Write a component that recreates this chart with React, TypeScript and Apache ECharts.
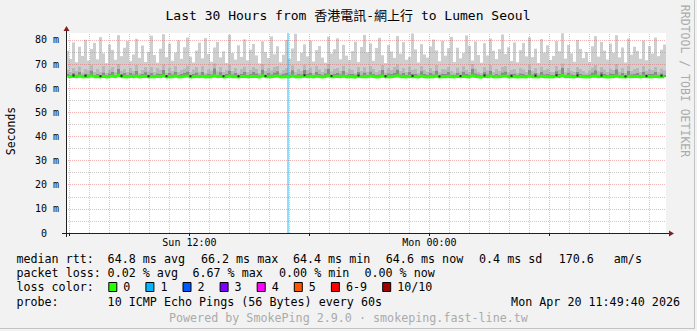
import React, { useEffect, useRef } from "react";
import * as echarts from "echarts";

// ---- time base (hours since Sun 00:00) ----
const START_HOUR = 5 + 49 / 60 + 40 / 3600; // Sun 05:49:40
const SPAN_HOURS = 30;
const STEP_HOURS = 0.15; // 9 minutes per sample column

// ---- smoke: top of light band (max ping), ms ----
const smokeMax = [
  75.5, 72.1, 79.0, 70.8, 77.2, 73.4, 80.1, 71.5, 76.3, 78.8,
  72.0, 81.2, 74.5, 70.4, 78.1, 75.9, 71.8, 82.0, 73.3, 76.8,
  79.6, 71.2, 74.0, 80.5, 72.6, 77.7, 70.9, 75.1, 81.8, 73.8,
  70.6, 76.4, 82.4, 72.9, 78.5, 71.4, 74.8, 79.9, 72.2, 77.0,
  81.0, 73.1, 70.7, 75.6, 78.9, 72.4, 80.8, 74.2, 71.0, 76.9,
  79.2, 72.8, 75.3, 70.5, 82.2, 74.6, 71.9, 77.8, 73.0, 80.3,
  71.6, 76.0, 78.4, 73.6, 70.3, 79.5, 75.0, 72.5, 81.5, 74.1,
  77.4, 70.8, 73.9, 80.0, 72.3, 76.5, 82.6, 71.3, 74.7, 78.2,
  73.2, 79.8, 71.1, 75.8, 77.5, 72.7, 70.6, 81.4, 74.4, 76.2,
  80.7, 72.0, 78.0, 73.5, 71.7, 75.4, 79.3, 70.9, 77.1, 82.1,
  74.9, 78.6, 71.4, 76.7, 80.9, 73.7, 70.4, 77.9, 75.2, 72.6,
  81.7, 74.3, 79.1, 71.8, 73.0, 82.7, 76.1, 70.7, 78.3, 74.0,
  72.7, 77.3, 80.2, 75.7, 71.2, 79.7, 73.5, 76.6, 81.3, 70.9,
  76.8, 72.4, 74.6, 81.9, 77.6, 71.5, 79.4, 73.8, 70.6, 78.7,
  73.6, 80.6, 75.5, 72.1, 76.2, 82.3, 74.2, 77.0, 71.3, 79.0,
  70.8, 75.8, 78.8, 73.2, 81.1, 72.9, 76.4, 70.5, 80.4, 74.8,
  77.8, 71.7, 73.4, 79.6, 75.3, 82.8, 72.3, 78.0, 74.5, 71.0,
  80.0, 76.3, 72.5, 75.0, 70.9, 77.4, 81.6, 73.1, 79.2, 75.6,
  71.9, 78.5, 74.7, 82.0, 72.8, 76.9, 70.7, 80.6, 73.9, 77.2,
  75.4, 72.2, 79.8, 71.6, 77.5, 74.4, 81.0, 73.3, 76.0, 78.1,
];

// ---- smoke: top of medium band ----
const smokeMid = [
  67.8, 66.9, 68.5, 67.2, 69.1, 66.6, 68.0, 67.5, 69.6, 66.8,
  68.2, 67.0, 69.3, 66.5, 67.9, 68.8, 66.7, 70.2, 67.4, 68.1,
  66.9, 68.6, 67.3, 69.8, 66.4, 67.7, 68.9, 67.1, 69.0, 66.8,
  68.4, 67.6, 70.0, 66.6, 68.7, 67.2, 69.4, 66.9, 67.8, 68.3,
  69.5, 66.7, 67.9, 68.8, 67.0, 69.2, 66.5, 68.1, 67.4, 70.4,
  67.1, 68.9, 66.8, 67.6, 69.7, 67.3, 68.5, 66.6, 68.0, 69.1,
  66.9, 67.8, 69.0, 68.2, 66.5, 70.1, 67.2, 68.6, 67.5, 68.8,
  69.3, 66.6, 67.7, 68.4, 67.0, 69.6, 66.8, 68.1, 67.3, 69.9,
  67.6, 68.7, 66.4, 69.2, 67.9, 66.9, 68.3, 70.3, 67.1, 68.0,
  68.6, 67.4, 69.5, 66.7, 68.2, 67.8, 66.5, 69.0, 67.2, 68.9,
  67.0, 69.4, 68.1, 66.8, 67.5, 69.8, 66.6, 68.4, 67.7, 68.8,
  70.0, 67.3, 68.6, 66.9, 69.1, 67.6, 68.0, 66.5, 69.3, 67.8,
  66.8, 68.5, 67.2, 69.7, 66.7, 68.2, 67.9, 69.0, 67.4, 66.6,
  68.7, 67.1, 69.2, 67.8, 66.9, 70.2, 68.3, 67.0, 66.5, 68.9,
  67.5, 69.6, 66.8, 68.0, 67.3, 68.8, 69.4, 66.7, 67.6, 68.1,
  66.6, 68.4, 67.9, 66.9, 69.9, 67.2, 68.5, 66.5, 69.1, 67.7,
  68.2, 67.0, 66.8, 69.3, 67.8, 70.4, 66.7, 68.6, 67.4, 66.9,
  69.0, 68.1, 67.3, 66.6, 67.5, 68.7, 69.8, 67.1, 68.9, 67.9,
  66.8, 68.3, 67.6, 70.1, 67.0, 68.4, 66.5, 69.5, 67.2, 68.0,
  68.5, 66.9, 69.2, 67.4, 68.1, 67.7, 69.0, 66.7, 68.3, 67.5,
];

// ---- smoke: top of dark band ----
const smokeLow = [
  65.9, 65.6, 66.3, 65.7, 66.8, 65.5, 66.1, 65.8, 67.4, 65.6,
  66.0, 65.7, 66.6, 65.4, 66.2, 66.9, 65.6, 68.1, 65.9, 66.4,
  65.6, 66.5, 65.8, 67.2, 65.5, 66.0, 66.7, 65.7, 66.3, 65.6,
  66.2, 65.9, 67.6, 65.5, 66.4, 65.8, 66.9, 65.6, 66.0, 66.5,
  67.0, 65.6, 65.9, 66.6, 65.7, 66.8, 65.4, 66.1, 65.8, 68.3,
  65.7, 66.7, 65.6, 65.9, 67.3, 65.8, 66.3, 65.5, 66.0, 66.9,
  65.6, 65.9, 66.8, 66.2, 65.4, 67.8, 65.7, 66.4, 65.8, 66.6,
  67.1, 65.5, 65.9, 66.3, 65.7, 67.5, 65.6, 66.1, 65.8, 67.7,
  65.9, 66.5, 65.4, 66.9, 66.0, 65.6, 66.2, 68.0, 65.7, 65.9,
  66.4, 65.8, 67.2, 65.6, 66.1, 65.9, 65.5, 66.8, 65.7, 66.6,
  65.7, 67.0, 66.0, 65.6, 65.8, 67.6, 65.5, 66.2, 65.9, 66.5,
  67.8, 65.8, 66.4, 65.6, 66.9, 65.9, 66.0, 65.4, 67.1, 65.9,
  65.6, 66.3, 65.8, 67.4, 65.5, 66.1, 65.9, 66.8, 65.7, 65.5,
  66.5, 65.7, 66.9, 65.9, 65.6, 68.2, 66.2, 65.8, 65.4, 66.7,
  65.8, 67.3, 65.6, 66.0, 65.7, 66.6, 67.0, 65.5, 65.9, 66.1,
  65.5, 66.2, 65.9, 65.6, 67.7, 65.8, 66.4, 65.4, 66.9, 65.8,
  66.1, 65.7, 65.6, 67.1, 65.9, 68.4, 65.5, 66.5, 65.8, 65.6,
  66.8, 66.0, 65.7, 65.5, 65.8, 66.6, 67.5, 65.7, 66.7, 65.9,
  65.6, 66.2, 65.9, 67.9, 65.7, 66.3, 65.4, 67.2, 65.8, 66.0,
  66.4, 65.6, 66.9, 65.8, 66.1, 65.9, 66.8, 65.5, 66.2, 65.7,
];

// ---- median rtt ----
const medianRtt = [
  64.9, 64.8, 65.0, 64.8, 65.1, 64.7, 64.9, 64.8, 65.2, 64.8,
  64.9, 64.7, 65.0, 64.6, 64.9, 65.1, 64.8, 65.3, 64.8, 64.9,
  64.7, 65.0, 64.8, 65.1, 64.6, 64.9, 65.0, 64.7, 64.9, 64.8,
  65.0, 64.8, 65.2, 64.7, 64.9, 64.8, 65.1, 64.7, 64.8, 65.0,
  65.1, 64.7, 64.8, 65.0, 64.8, 65.0, 64.6, 64.9, 64.8, 65.2,
  64.8, 65.0, 64.7, 64.8, 65.1, 64.8, 64.9, 64.7, 64.9, 65.0,
  64.7, 64.9, 65.0, 64.9, 64.6, 65.2, 64.8, 64.9, 64.8, 65.0,
  65.1, 64.7, 64.8, 64.9, 64.8, 65.1, 64.7, 64.9, 64.8, 65.1,
  64.8, 65.0, 64.6, 65.0, 64.9, 64.7, 64.9, 65.2, 64.8, 64.8,
  65.0, 64.8, 65.1, 64.7, 64.9, 64.8, 64.6, 65.0, 64.8, 64.9,
  64.8, 65.1, 64.9, 64.7, 64.8, 65.1, 64.7, 64.9, 64.8, 65.0,
  65.2, 64.8, 64.9, 64.7, 65.0, 64.8, 64.9, 64.6, 65.1, 64.8,
  64.7, 64.9, 64.8, 65.1, 64.6, 64.9, 64.8, 65.0, 64.8, 64.7,
  65.0, 64.8, 65.0, 64.8, 64.7, 65.2, 64.9, 64.8, 64.6, 65.0,
  64.8, 65.1, 64.7, 64.9, 64.8, 65.0, 65.1, 64.7, 64.8, 64.9,
  64.7, 64.9, 64.8, 64.7, 65.1, 64.8, 64.9, 64.6, 65.0, 64.8,
  64.9, 64.8, 64.7, 65.1, 64.8, 65.3, 64.7, 65.0, 64.8, 64.7,
  65.0, 64.9, 64.8, 64.7, 64.8, 65.0, 65.1, 64.8, 65.0, 64.8,
  64.7, 64.9, 64.8, 65.1, 64.8, 64.9, 64.6, 65.0, 64.8, 64.9,
  64.9, 64.7, 65.0, 64.8, 64.9, 64.8, 65.0, 64.7, 64.9, 64.6,
];

// sample columns where the darkest smoke shows on the median line
const blackSpotSteps = [2, 6, 11, 18, 27, 33, 41, 52, 57, 66, 79, 88, 97, 106, 115, 124, 131, 139, 148, 156, 163, 170, 178, 186, 193, 198];

// loss events (hour, loss-colour index)
const lossHours = [16.94];
const lossLevel = [1];

// grid
const gridHours = [6, 7, 8, 9, 10, 11, 12, 13, 14, 15, 16, 17, 18, 19, 20, 21, 22, 23, 24, 25, 26, 27, 28, 29, 30, 31, 32, 33, 34, 35];
const majorHours = [6, 12, 18, 24, 30];
const gridValues = [5, 10, 15, 20, 25, 30, 35, 40, 45, 50, 55, 60, 65, 70, 75, 80];
const xLabelHours = [12, 24];
const xLabelTexts = ["Sun 12:00", "Mon 00:00"];
const Y_MAX = 82.9;

// legend texts
const titleText = "Last 30 Hours from 香港電訊-網上行 to Lumen Seoul";
const rttStats = ["64.8 ms avg", "66.2 ms max", "64.4 ms min", "64.6 ms now", "0.4 ms sd", "170.6", "am/s"];
const lossStats = ["0.02 % avg", "6.67 % max", "0.00 % min", "0.00 % now"];
const lossLabels = ["0", "1", "2", "3", "4", "5", "6-9", "10/10"];
const lossColors = ["#26ff00", "#00b8ff", "#0059ff", "#7e00ff", "#ff00ff", "#ff5500", "#ff0000", "#a10000"];
const probeText = "10 ICMP Echo Pings (56 Bytes) every 60s";
const dateText = "Mon Apr 20 11:49:40 2026";
const poweredText = "Powered by SmokePing 2.9.0 · smokeping.fast-line.tw";

// ---- layout / style ----
const MONO = '"DejaVu Sans Mono", "Noto Sans CJK TC", monospace';
const LEG_FONT = `11.7px ${MONO}`;
const rttX = [107.6, 200.9, 292.9, 385.8, 479, 558.7, 613.8];
const lossX = [107.6, 192.4, 279, 364.4];
const SMOKE_DARK = "#8a8a8a";
const SMOKE_MID = "#b8b8b8";
const SMOKE_LIGHT = "#cecece";

function txt(text: string, x: number, y: number, font: string, fill = "#000", align = "left", rotation = 0) {
  return {
    type: "text",
    x,
    y,
    rotation,
    silent: true,
    z: 10,
    style: {
      text,
      font,
      fill,
      align,
      textAlign: align,
      verticalAlign: "middle",
      textVerticalAlign: "middle",
    },
  };
}

function buildOption() {
  const t = (i: number) => START_HOUR + (i + 0.5) * STEP_HOURS;
  const smokeData = medianRtt.map((m, i) => [t(i), m, smokeLow[i], smokeMid[i], smokeMax[i]]);

  const minorStyle = { color: "rgba(150,150,150,0.5)", width: 1, type: [1, 1] };
  const majorStyle = { color: "rgba(222,79,79,0.42)", width: 1, type: [1, 1] };

  const gridLines: any[] = [];
  gridHours.forEach((h) => {
    gridLines.push({ xAxis: h, lineStyle: majorHours.includes(h) ? majorStyle : minorStyle });
  });
  gridValues.forEach((v) => {
    gridLines.push({ yAxis: v, lineStyle: v % 10 === 0 ? majorStyle : minorStyle });
  });
  const lossLines = lossHours.map((h, i) => {
    const c = lossColors[lossLevel[i]];
    return { xAxis: h, lineStyle: { color: c, opacity: 0.45, width: 2, type: "solid" } };
  });

  const graphic: any[] = [];
  // frame
  graphic.push({ type: "rect", shape: { x: 694, y: 0, width: 1, height: 329 }, style: { fill: "#c4c4c4" }, silent: true });
  graphic.push({ type: "rect", shape: { x: 0, y: 328, width: 695, height: 1 }, style: { fill: "#c4c4c4" }, silent: true });
  // axis extensions and arrows
  graphic.push({ type: "line", shape: { x1: 66.5, y1: 237, x2: 66.5, y2: 29 }, style: { stroke: "#1f1f1f", lineWidth: 1 }, silent: true, z: 5 });
  graphic.push({ type: "line", shape: { x1: 62, y1: 233.5, x2: 670, y2: 233.5 }, style: { stroke: "#1f1f1f", lineWidth: 1 }, silent: true, z: 5 });
  graphic.push({ type: "polygon", shape: { points: [[63.5, 31], [66.5, 26], [69.5, 31]] }, style: { fill: "#801f1f" }, silent: true, z: 5 });
  graphic.push({ type: "polygon", shape: { points: [[669, 230.5], [674, 233.5], [669, 236.5]] }, style: { fill: "#801f1f" }, silent: true, z: 5 });

  // texts
  graphic.push(txt(titleText, 348, 15, `13px ${MONO}`, "#000", "center"));
  graphic.push(txt("Seconds", 11, 131, `11.5px ${MONO}`, "#000", "center", Math.PI / 2));
  graphic.push(txt("RRDTOOL / TOBI OETIKER", 685, 81, `11.5px ${MONO}`, "#ababab", "center", -Math.PI / 2));

  graphic.push(txt("median rtt:", 16.4, 259, LEG_FONT));
  rttStats.forEach((s, i) => graphic.push(txt(s, rttX[i], 259, LEG_FONT)));
  graphic.push(txt("packet loss:", 16.4, 273, LEG_FONT));
  lossStats.forEach((s, i) => graphic.push(txt(s, lossX[i], 273, LEG_FONT)));
  graphic.push(txt("loss color:", 16.4, 287, LEG_FONT));
  let bx = 108.3;
  lossLabels.forEach((lab, i) => {
    graphic.push({
      type: "rect",
      shape: { x: bx + 0.5, y: 282.5, width: 8, height: 9 },
      style: { fill: lossColors[i], stroke: "#000", lineWidth: 1 },
      silent: true,
      z: 10,
    });
    graphic.push(txt(lab, bx + 15, 287, LEG_FONT));
    bx += 30 + lab.length * 7.1;
  });
  graphic.push(txt("probe:", 16.4, 301.7, LEG_FONT));
  graphic.push(txt(probeText, 107.6, 301.7, LEG_FONT));
  graphic.push(txt(dateText, 680, 301.7, LEG_FONT, "#000", "right"));
  graphic.push(txt(poweredText, 348.4, 318, LEG_FONT, "#ababab", "center"));

  return {
    animation: false,
    backgroundColor: "#f2f2f2",
    grid: {
      left: 66,
      top: 33,
      width: 600,
      height: 200,
      show: true,
      backgroundColor: "#ffffff",
      borderWidth: 0,
    },
    xAxis: {
      type: "value",
      min: START_HOUR,
      max: START_HOUR + SPAN_HOURS,
      z: 4,
      axisLine: { show: false },
      splitLine: { show: false },
      axisTick: { show: true, customValues: majorHours, length: 3, lineStyle: { color: "#1f1f1f" } },
      axisLabel: {
        show: true,
        customValues: xLabelHours,
        formatter: (v: number) => {
          const k = xLabelHours.indexOf(Math.round(v));
          return k >= 0 ? xLabelTexts[k] : "";
        },
        margin: 4,
        fontFamily: MONO,
        fontSize: 10,
        color: "#000",
      },
    },
    yAxis: {
      type: "value",
      min: 0,
      max: Y_MAX,
      interval: 5,
      z: 4,
      axisLine: { show: false },
      axisTick: { show: false },
      splitLine: { show: false },
      axisLabel: {
        showMaxLabel: false,
        margin: 7,
        fontFamily: MONO,
        fontSize: 10,
        color: "#000",
        formatter: (v: number) => (v % 10 === 0 ? (v === 0 ? "{z|0}" : `${v} m`) : ""),
        rich: { z: { padding: [0, 12, 0, 0], fontFamily: MONO, fontSize: 10, color: "#000" } },
      },
    },
    graphic,
    series: [
      {
        type: "custom",
        name: "smoke",
        data: smokeData,
        encode: { x: 0, y: [1, 2, 3, 4] },
        silent: true,
        z: 2,
        renderItem: (params: any, api: any) => {
          const x = api.value(0);
          const p0 = api.coord([x, api.value(1)]);
          const p1 = api.coord([x, api.value(2)]);
          const p2 = api.coord([x, api.value(3)]);
          const p3 = api.coord([x, api.value(4)]);
          const w = api.size([STEP_HOURS, 0])[0];
          const left = p0[0] - w / 2;
          const band = (top: number[], bottom: number[], fill: string) => ({
            type: "rect",
            shape: { x: left, y: Math.min(top[1], bottom[1]), width: w, height: Math.max(0, bottom[1] - top[1]) },
            style: { fill },
          });
          return {
            type: "group",
            children: [band(p3, p2, SMOKE_LIGHT), band(p2, p1, SMOKE_MID), band(p1, p0, SMOKE_DARK)],
          };
        },
      },
      {
        type: "line",
        name: "grid",
        data: [],
        silent: true,
        markLine: { silent: true, z: 3, symbol: "none", label: { show: false }, animation: false, data: gridLines },
      },
      {
        type: "line",
        name: "loss",
        data: [],
        silent: true,
        markLine: { silent: true, z: 3, symbol: "none", label: { show: false }, animation: false, data: lossLines },
      },
      {
        type: "line",
        name: "median",
        data: medianRtt.map((v, i) => [t(i), v]),
        showSymbol: false,
        symbol: "none",
        silent: true,
        z: 6,
        lineStyle: { color: "#26ff00", width: 3 },
      },
      {
        type: "scatter",
        name: "spots",
        data: blackSpotSteps.map((i) => [t(i), medianRtt[i] + 0.3]),
        symbol: "rect",
        symbolSize: [2, 2],
        silent: true,
        z: 7,
        itemStyle: { color: "#111" },
      },
    ],
  };
}

export default function App() {
  const ref = useRef<HTMLDivElement>(null);
  useEffect(() => {
    document.body.style.margin = "0";
    const chart = echarts.init(ref.current!, null, { renderer: "svg" });
    chart.setOption(buildOption() as any);
    return () => chart.dispose();
  }, []);
  return <div ref={ref} style={{ width: 697, height: 331 }} />;
}
